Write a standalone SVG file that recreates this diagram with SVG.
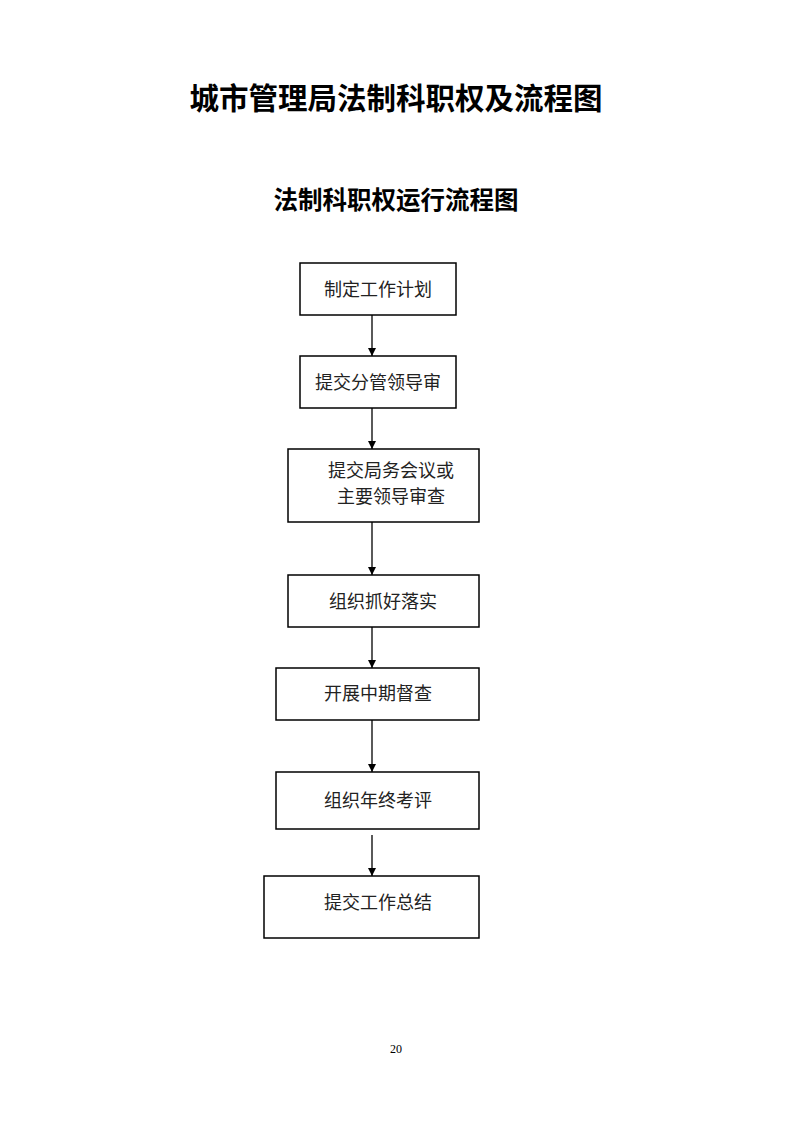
<svg xmlns="http://www.w3.org/2000/svg" width="793" height="1122" viewBox="0 0 793 1122">
<style>
.box{fill:#fff;stroke:#000;stroke-width:1.5}
.t{font-family:"Liberation Serif","Noto Sans CJK SC",serif;font-size:18px;fill:#222;text-anchor:middle}
.h{font-family:"Liberation Sans","Noto Sans CJK SC",sans-serif;font-weight:bold;fill:#000;text-anchor:middle}
.c{stroke:#000;stroke-width:1.3;fill:none}
</style>
<defs>
<marker id="ah" markerWidth="8" markerHeight="8" refX="8" refY="4" orient="auto" markerUnits="userSpaceOnUse">
<path d="M0,0 L8,4 L0,8 z" fill="#000"/>
</marker>
</defs>
<rect width="793" height="1122" fill="#fff"/>
<text class="h" x="396" y="109" font-size="29.5">城市管理局法制科职权及流程图</text>
<text class="h" x="396" y="209" font-size="24.5">法制科职权运行流程图</text>
<g id="connectors">
<line class="c" x1="372" y1="315" x2="372" y2="356" marker-end="url(#ah)"/>
<line class="c" x1="372" y1="408" x2="372" y2="449" marker-end="url(#ah)"/>
<line class="c" x1="372" y1="522" x2="372" y2="575" marker-end="url(#ah)"/>
<line class="c" x1="372" y1="627" x2="372" y2="668" marker-end="url(#ah)"/>
<line class="c" x1="372" y1="720" x2="372" y2="772" marker-end="url(#ah)"/>
<line class="c" x1="372" y1="835" x2="372" y2="876" marker-end="url(#ah)"/>
</g>
<g id="n1"><rect class="box" x="300" y="263" width="156" height="52"/><text class="t" x="378" y="296">制定工作计划</text></g>
<g id="n2"><rect class="box" x="300" y="356" width="156" height="52"/><text class="t" x="378" y="389">提交分管领导审</text></g>
<g id="n3"><rect class="box" x="288" y="449" width="191" height="73"/><text class="t" x="391" y="477">提交局务会议或</text><text class="t" x="391" y="503">主要领导审查</text></g>
<g id="n4"><rect class="box" x="288" y="575" width="191" height="52"/><text class="t" x="383" y="608">组织抓好落实</text></g>
<g id="n5"><rect class="box" x="276" y="668" width="203" height="52"/><text class="t" x="378" y="700">开展中期督查</text></g>
<g id="n6"><rect class="box" x="276" y="772" width="203" height="57"/><text class="t" x="378" y="807">组织年终考评</text></g>
<g id="n7"><rect class="box" x="264" y="876" width="215" height="62"/><text class="t" x="378" y="909">提交工作总结</text></g>
<text x="396" y="1053" font-family="Liberation Serif,serif" font-size="12" text-anchor="middle" fill="#000">20</text>
</svg>
